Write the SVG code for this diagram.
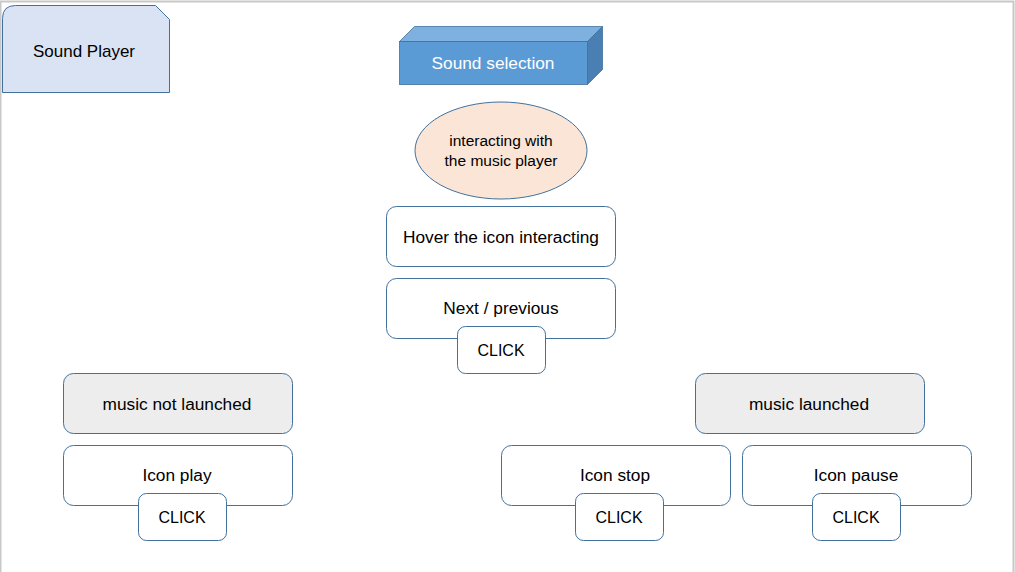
<svg xmlns="http://www.w3.org/2000/svg" width="1015" height="572" viewBox="0 0 1015 572">
<style>
.t{font-family:"Liberation Sans",Arial,sans-serif;font-size:17.3px;fill:#000;text-anchor:middle}
.c{font-size:16px}
.box{fill:#fff;stroke:#41719c;stroke-width:1}
.grey{fill:#ededed;stroke:#41719c;stroke-width:1}
</style>
<rect x="0" y="0" width="1015" height="572" fill="#fff"/>
<path d="M0.5 572 V1.5 H1013.5 V572" fill="none" stroke="#c8c8c8" stroke-width="2"/>
<g id="sound-player">
<path d="M2.5 92.5 V18.5 Q2.5 5.5 15.5 5.5 H155.5 L169.5 19.5 V92.5 Z" fill="#dae3f3" stroke="#41719c"/>
<text class="t" x="84" y="57" style="font-size:17px">Sound Player</text>
</g>
<g id="sound-selection">
<polygon points="399.5,41.5 414.5,26.5 602.5,26.5 587.5,41.5" fill="#7eb0e0" stroke="#41719c" stroke-width="0.8"/>
<polygon points="587.5,41.5 602.5,26.5 602.5,69.5 587.5,84.5" fill="#4a7fb3" stroke="#41719c" stroke-width="0.8"/>
<rect x="399.5" y="41.5" width="188" height="43" fill="#5b9bd5" stroke="#41719c" stroke-width="0.8"/>
<text class="t" x="493" y="69" style="fill:#fff">Sound selection</text>
</g>
<g id="interacting">
<ellipse cx="501" cy="150.5" rx="86" ry="48.5" fill="#fbe5d6" stroke="#41719c"/>
<text class="t" x="501" y="146" style="font-size:15.5px">interacting with</text>
<text class="t" x="501" y="166" style="font-size:15.5px">the music player</text>
</g>
<g id="hover">
<rect class="box" x="386.5" y="206.5" width="229" height="60" rx="10"/>
<text class="t" x="501" y="243">Hover the icon interacting</text>
</g>
<g id="next-previous">
<rect class="box" x="386.5" y="278.5" width="229" height="60" rx="10"/>
<text class="t" x="501" y="314">Next / previous</text>
</g>
<g id="click-next">
<rect class="box" x="457.5" y="326.5" width="88" height="47" rx="8"/>
<text class="t c" x="501" y="356">CLICK</text>
</g>
<g id="music-not-launched">
<rect class="grey" x="63.5" y="373.5" width="229" height="60" rx="10"/>
<text class="t" x="177" y="410">music not launched</text>
</g>
<g id="icon-play">
<rect class="box" x="63.5" y="445.5" width="229" height="60" rx="10"/>
<text class="t" x="177" y="481">Icon play</text>
</g>
<g id="click-play">
<rect class="box" x="138.5" y="493.5" width="88" height="47" rx="8"/>
<text class="t c" x="182" y="523">CLICK</text>
</g>
<g id="music-launched">
<rect class="grey" x="695.5" y="373.5" width="229" height="60" rx="10"/>
<text class="t" x="809" y="410">music launched</text>
</g>
<g id="icon-stop">
<rect class="box" x="501.5" y="445.5" width="229" height="60" rx="10"/>
<text class="t" x="615" y="481">Icon stop</text>
</g>
<g id="click-stop">
<rect class="box" x="575.5" y="493.5" width="88" height="47" rx="8"/>
<text class="t c" x="619" y="523">CLICK</text>
</g>
<g id="icon-pause">
<rect class="box" x="742.5" y="445.5" width="229" height="60" rx="10"/>
<text class="t" x="856" y="481">Icon pause</text>
</g>
<g id="click-pause">
<rect class="box" x="812.5" y="493.5" width="88" height="47" rx="8"/>
<text class="t c" x="856" y="523">CLICK</text>
</g>
<g id="connectors"></g>
</svg>
